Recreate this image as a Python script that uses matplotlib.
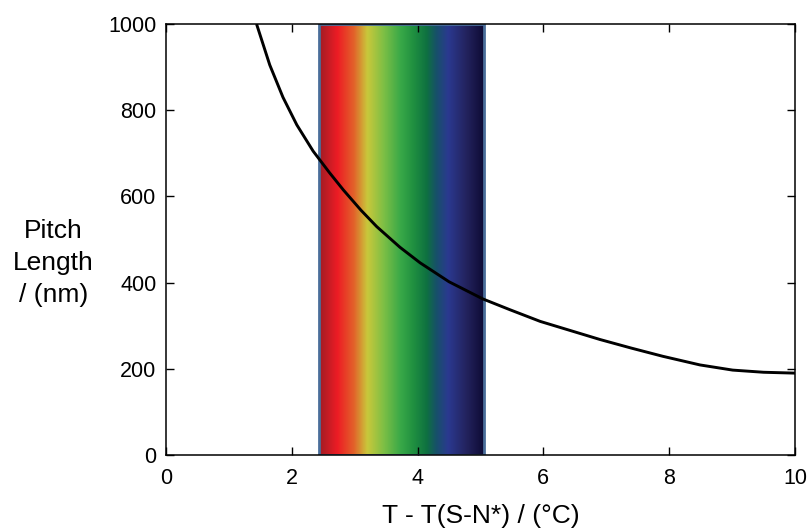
import matplotlib
matplotlib.use("Agg")
import matplotlib.pyplot as plt
import numpy as np
from matplotlib.colors import LinearSegmentedColormap
from matplotlib.patches import Rectangle

plt.rcParams['font.family'] = ['Liberation Sans', 'DejaVu Sans']

# pitch length curve
temp = [1.44, 1.65, 1.86, 2.08, 2.34, 2.6, 2.82, 3.1, 3.35, 3.72, 4.04, 4.5,
        5.04, 5.47, 5.95, 6.9, 7.4, 7.9, 8.49, 9.01, 9.5, 10.0]
pitch = [1000, 905, 830, 766, 705, 655, 615, 568, 530, 482, 446, 402,
         362, 337, 310, 268, 248, 229, 209, 197, 192, 190]

# visible-reflection band
band_lo, band_hi = 2.43, 5.06
band_colors = ['#a11d25', '#ed1c24', '#e2632a', '#c9c83b', '#7dbf45', '#3aa948',
               '#209040', '#0e7140', '#17506a', '#2b3990', '#23235e', '#0d0a33']
band_pos = [0.0, 0.11, 0.21, 0.29, 0.39, 0.49, 0.57, 0.65, 0.71, 0.78, 0.89, 1.0]

xticks = [0, 2, 4, 6, 8, 10]
yticks = [0, 200, 400, 600, 800, 1000]

fig = plt.figure(figsize=(8.12, 5.31), dpi=100)
ax = fig.add_axes([0.2044, 0.1431, 0.7746, 0.8117])

cmap = LinearSegmentedColormap.from_list('band', list(zip(band_pos, band_colors)))
grad = np.linspace(0, 1, 400).reshape(1, -1)
ax.imshow(grad, cmap=cmap, extent=[band_lo, band_hi, 0, 1000], aspect='auto',
          interpolation='bilinear', zorder=1)
ax.add_patch(Rectangle((band_lo, 0), band_hi - band_lo, 1000, fill=False,
                       edgecolor='#4a6e9a', lw=2, zorder=2))

ax.plot(temp, pitch, color='black', lw=2.1, zorder=3, solid_capstyle='butt')

ax.set_xlim(0, 10)
ax.set_ylim(0, 1000)
ax.set_xticks(xticks)
ax.set_yticks(yticks)
ax.tick_params(direction='in', length=6, width=1, top=True, right=True,
               labelsize=15.5)
ax.tick_params(axis='x', pad=9)
ax.tick_params(axis='y', pad=7)
for s in ax.spines.values():
    s.set_linewidth(1.1)

ax.set_xlabel('T - T(S-N*) / (°C)', fontsize=19, labelpad=11)
fig.text(0.066, 0.505, 'Pitch\nLength\n/ (nm)', fontsize=19, ha='center',
         va='center', linespacing=1.43)

fig.savefig('out.png', dpi=100)
